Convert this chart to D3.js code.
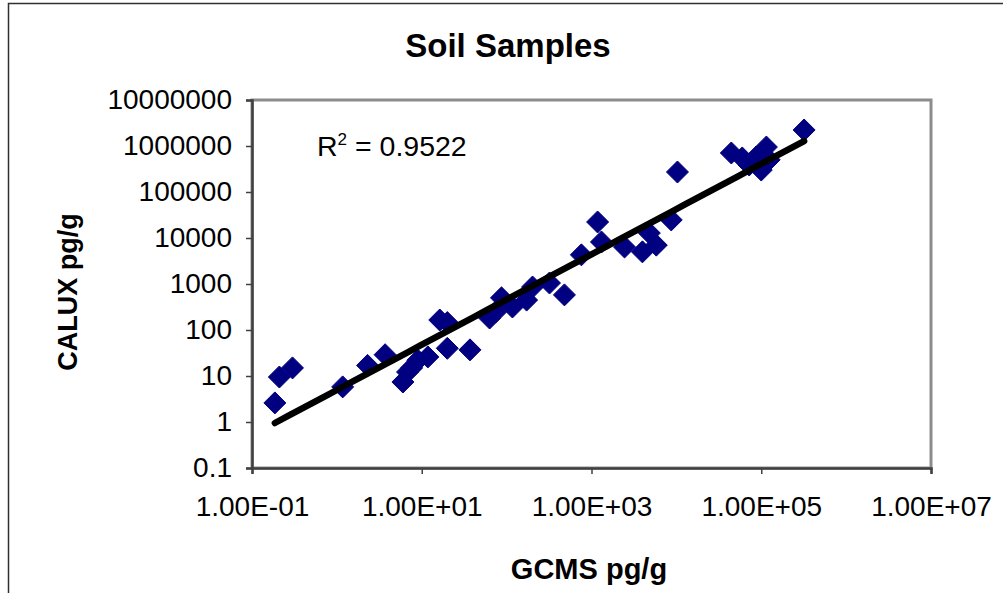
<!DOCTYPE html>
<html>
<head>
<meta charset="utf-8">
<script src="https://cdn.jsdelivr.net/npm/d3@7"></script>
<style>
  html, body { margin: 0; padding: 0; background: #fff; }
  svg { display: block; }
  text { font-family: "Liberation Sans", Arial, sans-serif; fill: #000; }
</style>
</head>
<body>
<svg id="chart" width="1003" height="593"></svg>
<script>
// ---- data ----
const title = "Soil Samples";
const xAxisTitle = "GCMS pg/g";
const yAxisTitle = "CALUX pg/g";
const r2Label = "0.9522";

const gcms  = [0.186, 0.21, 0.30, 1.17, 2.3, 3.7, 6.0, 6.8, 7.6, 9.0, 11.8,
               16.3, 20, 20, 37, 63, 74, 87, 117, 172, 202, 320, 480, 760,
               1180, 1310, 2450, 3980, 4800, 5800, 8700, 10300, 44400, 59700,
               72000, 87000, 100000, 115000, 124000, 320000];
const calux = [2.6, 9.5, 15, 5.8, 17, 29, 7.4, 12.2, 15, 22, 26,
               165, 145, 40, 37, 182, 245, 500, 316, 447, 860, 1050, 580, 4300,
               22300, 8200, 6370, 5000, 12800, 7000, 24700, 272000, 705000, 550000,
               386000, 575000, 300000, 950000, 500000, 2230000];

// power trendline y = a * x^b
const trendA = 4.97;
const trendB = 0.983;

const xTicks = [0.1, 10, 1000, 100000, 10000000];
const xTickLabels = ["1.00E-01", "1.00E+01", "1.00E+03", "1.00E+05", "1.00E+07"];
const yTicks = [0.1, 1, 10, 100, 1000, 10000, 100000, 1000000, 10000000];
const yTickLabels = ["0.1", "1", "10", "100", "1000", "10000", "100000", "1000000", "10000000"];

// ---- layout ----
const svg = d3.select("#chart");
const plot = { left: 252, right: 931, top: 100, bottom: 468 };
const FONT = "Liberation Sans, Arial, sans-serif";

const x = d3.scaleLog().domain([0.1, 1e7]).range([plot.left, plot.right]);
const y = d3.scaleLog().domain([0.1, 1e7]).range([plot.bottom, plot.top]);

// outer frame
svg.append("rect")
  .attr("x", 8.5).attr("y", 3.5).attr("width", 1100).attr("height", 700)
  .attr("fill", "none").attr("stroke", "#303030").attr("stroke-width", 1.5);

// plot area border
svg.append("rect")
  .attr("x", plot.left).attr("y", plot.top)
  .attr("width", plot.right - plot.left).attr("height", plot.bottom - plot.top)
  .attr("fill", "#fff").attr("stroke", "#8c8c8c").attr("stroke-width", 3);

// y axis
const yAxis = svg.append("g")
  .attr("transform", `translate(${plot.left},0)`)
  .call(d3.axisLeft(y).tickValues(yTicks).tickFormat((d, i) => yTickLabels[i]).tickSize(6).tickPadding(14));
yAxis.select(".domain").attr("stroke", "#404040").attr("stroke-width", 2.5);
yAxis.selectAll(".tick line").attr("stroke", "#404040").attr("stroke-width", 1.5);
yAxis.selectAll(".tick text")
  .attr("font-size", 28).attr("font-family", FONT).attr("fill", "#000");

// x axis
const xAxis = svg.append("g")
  .attr("transform", `translate(0,${plot.bottom})`)
  .call(d3.axisBottom(x).tickValues(xTicks).tickFormat((d, i) => xTickLabels[i]).tickSize(6).tickPadding(22));
xAxis.select(".domain").attr("stroke", "#404040").attr("stroke-width", 2.5);
xAxis.selectAll(".tick line").attr("stroke", "#404040").attr("stroke-width", 1.5);
xAxis.selectAll(".tick text")
  .attr("font-size", 28).attr("font-family", FONT).attr("fill", "#000");

// trendline
const xMin = d3.min(gcms), xMax = d3.max(gcms);
const trendPts = d3.range(0, 41).map(i => {
  const lx = Math.log10(xMin) + (Math.log10(xMax) - Math.log10(xMin)) * i / 40;
  const xv = Math.pow(10, lx);
  return [xv, trendA * Math.pow(xv, trendB)];
});

// points
const diamond = "M0,-11 L11,0 L0,11 L-11,0 Z";
svg.append("g").selectAll("path")
  .data(gcms.map((g, i) => [g, calux[i]]))
  .join("path")
  .attr("d", diamond)
  .attr("transform", d => `translate(${x(d[0])},${y(d[1])})`)
  .attr("fill", "#000080")
  .attr("stroke", "#000080").attr("stroke-width", 1).attr("stroke-linejoin", "round");

svg.append("path")
  .datum(trendPts)
  .attr("d", d3.line().x(d => x(d[0])).y(d => y(d[1])))
  .attr("fill", "none").attr("stroke", "#000").attr("stroke-width", 6.5)
  .attr("stroke-linecap", "round");

// R^2 label
const r2 = svg.append("text")
  .attr("x", 317).attr("y", 156)
  .attr("font-size", 28.5);
r2.append("tspan").text("R");
r2.append("tspan").attr("font-size", 17).attr("dy", -11).text("2");
r2.append("tspan").attr("dy", 11).text(" = " + r2Label);

// title
svg.append("text")
  .attr("x", 508).attr("y", 57)
  .attr("text-anchor", "middle").attr("font-weight", "bold").attr("font-size", 33)
  .text(title);

// axis titles
svg.append("text")
  .attr("x", 589).attr("y", 579)
  .attr("text-anchor", "middle").attr("font-weight", "bold").attr("font-size", 29)
  .text(xAxisTitle);

svg.append("text")
  .attr("transform", "translate(77,292) rotate(-90)")
  .attr("text-anchor", "middle").attr("font-weight", "bold").attr("font-size", 27)
  .text(yAxisTitle);
</script>
</body>
</html>
